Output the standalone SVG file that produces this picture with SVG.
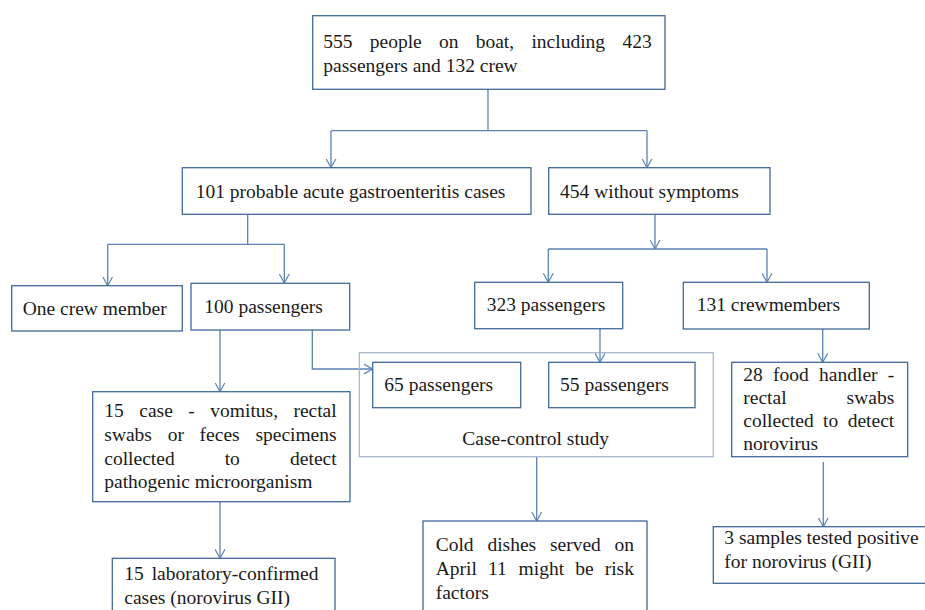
<svg xmlns="http://www.w3.org/2000/svg" width="925" height="610" viewBox="0 0 925 610">
<defs>
<style>
.box{fill:#fff;stroke:#41699a;stroke-width:1.3}
.outer{fill:none;stroke:#a7b7ca;stroke-width:1.3}
.ln{fill:none;stroke:#5a82b4;stroke-width:1.3}
.arr{fill:none;stroke:#5a82b4;stroke-width:1.3;marker-end:url(#ah)}
text{font-family:"Liberation Serif","Times New Roman",Tinos,serif;font-size:19.5px;fill:#1a1a1a}
</style>
<marker id="ah" markerUnits="userSpaceOnUse" viewBox="0 0 10 12" refX="10" refY="6" markerWidth="9" markerHeight="11" orient="auto">
<path d="M0,0.5 L10,6 L0,11.5" fill="none" stroke="#5a82b4" stroke-width="1.3"/>
</marker>
</defs>
<rect width="925" height="610" fill="#fff"/>

<g id="connectors">
<polyline class="ln" points="488,89.3 488,130.7"/>
<polyline class="ln" points="331,130.7 647,130.7"/>
<line class="arr" x1="331" y1="130.7" x2="331" y2="167.7"/>
<line class="arr" x1="647" y1="130.7" x2="647" y2="167.7"/>
<polyline class="ln" points="247.7,214.3 247.7,244.3"/>
<polyline class="ln" points="107.7,244.3 284.3,244.3"/>
<line class="arr" x1="107.7" y1="244.3" x2="107.7" y2="285.7"/>
<line class="arr" x1="284.3" y1="244.3" x2="284.3" y2="283"/>
<line class="arr" x1="655" y1="214.3" x2="655" y2="249"/>
<polyline class="ln" points="548.3,249 767,249"/>
<line class="arr" x1="548.3" y1="249" x2="548.3" y2="282.3"/>
<line class="arr" x1="767" y1="249" x2="767" y2="282.3"/>
<line class="arr" x1="220" y1="330" x2="220" y2="391.7"/>
<polyline class="arr" points="312.3,330 312.3,369 372.7,369"/>
<line class="arr" x1="600" y1="328.3" x2="600" y2="362.3"/>
<line class="arr" x1="822.7" y1="329" x2="822.7" y2="362.3"/>
<line class="arr" x1="220" y1="501.7" x2="220" y2="558.3"/>
<line class="arr" x1="536.7" y1="456.7" x2="536.7" y2="521"/>
<line class="arr" x1="823.3" y1="462" x2="823.3" y2="526.7"/>
</g>

<g id="n-total">
<rect class="box" x="312.7" y="15.7" width="352.3" height="73.6"/>
<text y="47.5"><tspan x="323.3">555</tspan><tspan x="369.8">people</tspan><tspan x="439">on</tspan><tspan x="475.7">boat,</tspan><tspan x="531.4">including</tspan><tspan x="622.4">423</tspan></text>
<text x="323.3" y="71.5">passengers and 132 crew</text>
</g>

<g id="n-cases">
<rect class="box" x="182.3" y="167.7" width="348.7" height="46.6"/>
<text x="195.7" y="198">101 probable acute gastroenteritis cases</text>
</g>

<g id="n-nosym">
<rect class="box" x="548.7" y="167.7" width="221.3" height="46.6"/>
<text x="560" y="198">454 without symptoms</text>
</g>

<g id="n-onecrew">
<rect class="box" x="11.7" y="285.7" width="170.6" height="45.3"/>
<text x="22.7" y="314.5">One crew member</text>
</g>

<g id="n-100pass">
<rect class="box" x="191" y="283.3" width="158.7" height="46.7"/>
<text x="204.3" y="313">100 passengers</text>
</g>

<g id="n-323pass">
<rect class="box" x="474.7" y="282.3" width="148" height="46.4"/>
<text x="486.7" y="311">323 passengers</text>
</g>

<g id="n-131crew">
<rect class="box" x="683.3" y="282.3" width="186" height="46.7"/>
<text x="696.7" y="311">131 crewmembers</text>
</g>

<g id="n-casecontrol">
<rect class="outer" x="359.3" y="352.7" width="354" height="104"/>
<text x="535.7" y="445" text-anchor="middle">Case-control study</text>
</g>

<g id="n-65pass">
<rect class="box" x="372.7" y="362.3" width="148" height="45.4"/>
<text x="384.3" y="390.5">65 passengers</text>
</g>

<g id="n-55pass">
<rect class="box" x="548.7" y="362.3" width="146.3" height="45.4"/>
<text x="560" y="390.5">55 passengers</text>
</g>

<g id="n-15case">
<rect class="box" x="92.7" y="391.7" width="257.3" height="110"/>
<text y="417"><tspan x="104.3">15</tspan><tspan x="139.3">case</tspan><tspan x="188.3">-</tspan><tspan x="210.3">vomitus,</tspan><tspan x="293.4">rectal</tspan></text>
<text y="441"><tspan x="104.3">swabs</tspan><tspan x="167.7">or</tspan><tspan x="199.6">feces</tspan><tspan x="255.4">specimens</tspan></text>
<text y="464.5"><tspan x="104.3">collected</tspan><tspan x="224.7">to</tspan><tspan x="290.1">detect</tspan></text>
<text x="104.3" y="488">pathogenic microorganism</text>
</g>

<g id="n-15lab">
<rect class="box" x="112.3" y="558.3" width="222.7" height="60"/>
<text y="580"><tspan x="124.3">15</tspan><tspan x="151.7">laboratory-confirmed</tspan></text>
<text x="124.3" y="603.5">cases (norovirus GII)</text>
</g>

<g id="n-cold">
<rect class="box" x="423" y="521" width="224" height="100"/>
<text y="551"><tspan x="435.7">Cold</tspan><tspan x="487.4">dishes</tspan><tspan x="549.9">served</tspan><tspan x="614.5">on</tspan></text>
<text y="575"><tspan x="435.7">April</tspan><tspan x="488">11</tspan><tspan x="518.6">might</tspan><tspan x="575.2">be</tspan><tspan x="604.7">risk</tspan></text>
<text x="435.7" y="598.5">factors</text>
</g>

<g id="n-28food">
<rect class="box" x="731.7" y="362.3" width="176" height="94.4"/>
<text y="381"><tspan x="743.3">28</tspan><tspan x="773.1">food</tspan><tspan x="819.1">handler</tspan><tspan x="887.8">-</tspan></text>
<text y="404"><tspan x="743.3">rectal</tspan><tspan x="846.6">swabs</tspan></text>
<text y="427"><tspan x="743.3">collected</tspan><tspan x="823.1">to</tspan><tspan x="847.7">detect</tspan></text>
<text x="743.3" y="450">norovirus</text>
</g>

<g id="n-3samples">
<rect class="box" x="713.3" y="526.7" width="215" height="56.6"/>
<text x="724.3" y="544">3 samples tested positive</text>
<text x="724.3" y="567.5">for norovirus (GII)</text>
</g>
</svg>
